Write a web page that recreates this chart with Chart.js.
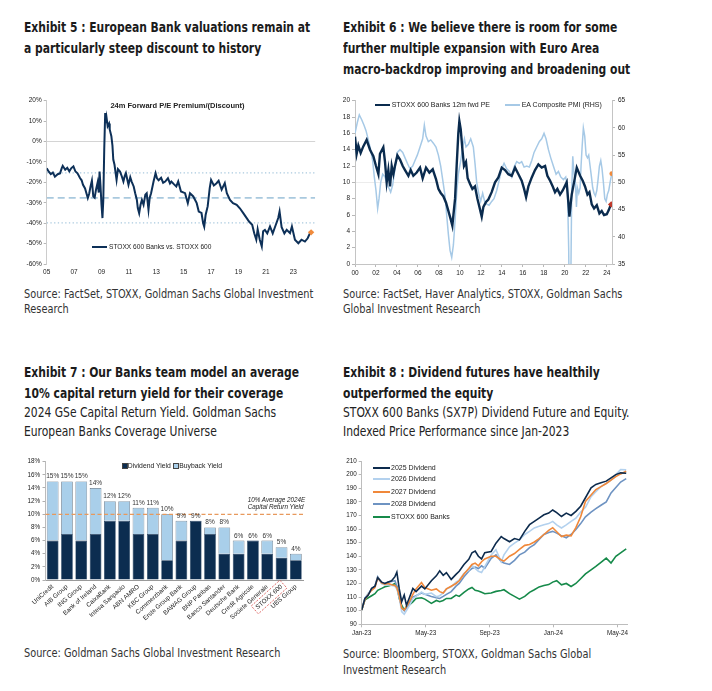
<!DOCTYPE html>
<html>
<head>
<meta charset="utf-8">
<script src="https://cdn.jsdelivr.net/npm/chart.js@4.4.1/dist/chart.umd.min.js"></script>
<style>
html, body { margin: 0; padding: 0; background: #fff; }
body { width: 712px; height: 691px; position: relative; overflow: hidden;
  font-family: "DejaVu Sans Condensed", "Liberation Sans", Arial, sans-serif; color: #1b1b1b; }
.ttl { position: absolute; font-weight: bold; font-size: 14.5px; line-height: 21px; white-space: nowrap;
  transform: scaleX(0.825); transform-origin: 0 0; }
.sub { position: absolute; font-size: 13.5px; line-height: 19px; white-space: nowrap; color: #222;
  transform: scaleX(0.885); transform-origin: 0 0; }
.src { position: absolute; font-size: 12.5px; line-height: 14.5px; white-space: nowrap; color: #333;
  transform: scaleX(0.868); transform-origin: 0 0; }
canvas { position: absolute; }
.lg { position: absolute; font-family: "Liberation Sans", Arial, sans-serif; font-size: 7px; line-height: 8px; color: #222; white-space: nowrap; }
.sw { position: absolute; height: 2px; }
.sq { position: absolute; width: 4px; height: 4px; border: 0.6px solid #444; }
</style>
</head>
<body>

<div class="ttl" style="left:24px;top:16.5px">Exhibit 5 : European Bank valuations remain at<br>a particularly steep discount to history</div>
<div class="ttl" style="left:343px;top:16.5px">Exhibit 6 : We believe there is room for some<br>further multiple expansion with Euro Area<br>macro-backdrop improving and broadening out</div>
<div class="src" style="left:24px;top:287px">Source: FactSet, STOXX, Goldman Sachs Global Investment<br>Research</div>
<div class="src" style="left:343px;top:287px">Source: FactSet, Haver Analytics, STOXX, Goldman Sachs<br>Global Investment Research</div>

<div class="ttl" style="left:24px;top:361.5px">Exhibit 7 : Our Banks team model an average<br>10% capital return yield for their coverage</div>
<div class="sub" style="left:24px;top:402.5px">2024 GSe Capital Return Yield. Goldman Sachs<br>European Banks Coverage Universe</div>
<div class="ttl" style="left:343px;top:361.5px">Exhibit 8 : Dividend futures have healthily<br>outperformed the equity</div>
<div class="sub" style="left:343px;top:402.5px">STOXX 600 Banks (SX7P) Dividend Future and Equity.<br>Indexed Price Performance since Jan-2023</div>
<div class="src" style="left:24px;top:646px">Source: Goldman Sachs Global Investment Research</div>
<div class="src" style="left:343px;top:646px;line-height:16px">Source: Bloomberg, STOXX, Goldman Sachs Global<br>Investment Research</div>

<canvas id="c1" width="302" height="190" style="left:20px;top:90px"></canvas>
<canvas id="c2" width="300" height="190" style="left:340px;top:90px"></canvas>
<canvas id="c3" width="300" height="190" style="left:20px;top:455px"></canvas>
<canvas id="c4" width="290" height="185" style="left:340px;top:455px"></canvas>

<!-- chart 1 overlay text -->
<div class="lg" style="left:101.7px;width:151.6px;text-align:center;top:100.5px;font-weight:bold;font-size:7.5px;line-height:9px">24m Forward P/E Premium/(Discount)</div>
<div class="sw" style="left:91.7px;top:245.7px;width:15.3px;background:#0d3058"></div>
<div class="lg" style="left:109px;top:242.7px;font-size:6.6px">STOXX 600 Banks vs. STOXX 600</div>

<!-- chart 2 legend -->
<div class="sw" style="left:375px;top:104px;width:15px;background:#0a2b4e"></div>
<div class="lg" style="left:391.7px;top:101px">STOXX 600 Banks 12m fwd PE</div>
<div class="sw" style="left:505px;top:104px;width:15px;background:#a6c9e6"></div>
<div class="lg" style="left:521.7px;top:101px">EA Composite PMI (RHS)</div>

<!-- chart 3 legend and note -->
<div class="sq" style="left:121.7px;top:463.3px;background:#0c2d50"></div>
<div class="lg" style="left:127.8px;top:461.5px;font-size:6.8px">Dividend Yield</div>
<div class="sq" style="left:173.3px;top:463.3px;background:#a9cfea"></div>
<div class="lg" style="left:179.3px;top:461.5px;font-size:6.8px">Buyback Yield</div>
<div class="lg" style="left:247.7px;top:497px;font-size:6.3px;line-height:6.6px;font-style:italic">10% Average 2024E<br>Capital Return Yield</div>

<!-- chart 4 legend -->
<div class="sw" style="left:373.3px;top:466.7px;width:16.7px;background:#0d2b4d"></div>
<div class="lg" style="left:391px;top:463.7px">2025 Dividend</div>
<div class="sw" style="left:373.3px;top:478.3px;width:16.7px;background:#b3d1ee"></div>
<div class="lg" style="left:391px;top:475.3px">2026 Dividend</div>
<div class="sw" style="left:373.3px;top:490.7px;width:16.7px;background:#f0883a"></div>
<div class="lg" style="left:391px;top:487.7px">2027 Dividend</div>
<div class="sw" style="left:373.3px;top:503.3px;width:16.7px;background:#6e93c2"></div>
<div class="lg" style="left:391px;top:500.3px">2028 Dividend</div>
<div class="sw" style="left:373.3px;top:515.7px;width:16.7px;background:#168a4a"></div>
<div class="lg" style="left:391px;top:512.7px">STOXX 600 Banks</div>

<script>
// ---- Exhibit 5: banks vs STOXX 600 24m fwd P/E premium (%) ----
const c1TickYears = [2005, 2007, 2009, 2011, 2013, 2015, 2017, 2019, 2021, 2023];
const c1Years = [2005.00, 2005.15, 2005.30, 2005.45, 2005.60, 2005.80, 2005.97, 2006.10, 2006.17, 2006.35,
  2006.50, 2006.65, 2006.80, 2006.95, 2007.10, 2007.25, 2007.43, 2007.55, 2007.65, 2007.80,
  2007.90, 2008.00, 2008.10, 2008.20, 2008.30, 2008.40, 2008.50, 2008.60, 2008.72, 2008.80,
  2008.86, 2008.93, 2009.00, 2009.07, 2009.13, 2009.20, 2009.27, 2009.32, 2009.37, 2009.45,
  2009.55, 2009.60, 2009.72, 2009.80, 2009.86, 2009.95, 2010.10, 2010.20, 2010.35, 2010.48,
  2010.60, 2010.70, 2010.78, 2010.97, 2011.10, 2011.20, 2011.35, 2011.46, 2011.58, 2011.65,
  2011.75, 2011.85, 2011.95, 2012.07, 2012.20, 2012.30, 2012.43, 2012.52, 2012.62, 2012.80,
  2012.95, 2013.05, 2013.17, 2013.35, 2013.50, 2013.65, 2013.85, 2014.00, 2014.10, 2014.30,
  2014.46, 2014.60, 2014.80, 2015.10, 2015.30, 2015.46, 2015.70, 2015.95, 2016.10, 2016.30,
  2016.42, 2016.50, 2016.60, 2016.75, 2016.90, 2017.00, 2017.20, 2017.40, 2017.55, 2017.77,
  2018.00, 2018.15, 2018.38, 2018.60, 2018.87, 2019.10, 2019.35, 2019.60, 2019.77, 2020.00,
  2020.15, 2020.30, 2020.40, 2020.55, 2020.70, 2020.80, 2020.93, 2021.10, 2021.30, 2021.50,
  2021.66, 2021.90, 2022.00, 2022.15, 2022.35, 2022.52, 2022.76, 2022.90, 2023.12, 2023.37,
  2023.60, 2023.85, 2024.05, 2024.22, 2024.30];
const c1Values = [-13.1, -14.8, -16.0, -15.2, -17.2, -16.0, -15.6, -13.0, -11.9, -13.8,
  -12.9, -14.6, -13.0, -12.2, -14.7, -15.6, -17.9, -19.0, -21.2, -23.0,
  -25.3, -27.7, -25.6, -22.0, -19.1, -26.8, -27.5, -23.6, -20.0, -25.0,
  -14.7, -22.0, -31.0, -37.5, -29.0, -4.0, 14.0, 9.0, 11.6, 7.5,
  8.8, 5.9, 2.6, -2.0, -8.8, -11.4, -18.8, -13.5, -14.7, -17.0,
  -19.6, -16.8, -15.5, -21.2, -17.5, -19.6, -22.0, -25.3, -28.5, -32.6,
  -35.1, -31.0, -28.6, -31.0, -26.0, -25.3, -33.4, -27.5, -25.3, -19.6,
  -15.5, -18.0, -19.0, -17.8, -20.2, -19.6, -18.0, -20.5, -19.6, -21.0,
  -22.0, -19.6, -24.5, -25.3, -30.2, -25.3, -26.9, -30.2, -34.3, -35.0,
  -40.0, -41.7, -36.0, -31.8, -22.8, -18.8, -21.5, -20.4, -19.2, -23.6,
  -20.4, -25.3, -28.6, -30.2, -31.0, -32.7, -35.1, -37.5, -39.2, -40.8,
  -44.9, -48.1, -43.0, -48.0, -51.4, -44.0, -43.3, -45.0, -41.6, -45.0,
  -42.0, -37.5, -34.3, -42.0, -45.0, -43.3, -44.9, -41.6, -48.1, -49.8,
  -48.1, -49.0, -47.4, -44.9, -44.5];
const c1Avg = -27.6;
const c1Plus1Sd = -15.4;
const c1Minus1Sd = -39.9;
const c1Last = [2024.30, -44.5];

// ---- Exhibit 6: banks 12m fwd PE vs EA composite PMI ----
const c2TickYears = [2000, 2002, 2004, 2006, 2008, 2010, 2012, 2014, 2016, 2018, 2020, 2022, 2024];
const c2PeYears = [2000.00, 2000.16, 2000.32, 2000.54, 2000.79, 2001.11, 2001.43, 2001.75, 2002.00, 2002.23,
  2002.38, 2002.70, 2002.86, 2003.02, 2003.18, 2003.34, 2003.50, 2003.66, 2003.81, 2004.04,
  2004.29, 2004.55, 2004.77, 2005.09, 2005.31, 2005.56, 2005.88, 2006.20, 2006.45, 2006.77,
  2007.09, 2007.41, 2007.72, 2007.95, 2008.17, 2008.42, 2008.68, 2008.90, 2009.12, 2009.28,
  2009.38, 2009.54, 2009.69, 2009.85, 2009.95, 2010.08, 2010.24, 2010.39, 2010.58, 2010.74,
  2010.97, 2011.19, 2011.44, 2011.67, 2011.86, 2012.08, 2012.24, 2012.49, 2012.71, 2013.03,
  2013.35, 2013.67, 2013.99, 2014.30, 2014.62, 2014.94, 2015.26, 2015.58, 2015.89, 2016.12,
  2016.31, 2016.53, 2016.85, 2017.16, 2017.48, 2017.80, 2018.12, 2018.34, 2018.60, 2018.85,
  2019.07, 2019.29, 2019.55, 2019.80, 2020.03, 2020.18, 2020.34, 2020.44, 2020.57, 2020.66,
  2020.88, 2021.14, 2021.46, 2021.71, 2021.93, 2022.16, 2022.35, 2022.57, 2022.79, 2023.05,
  2023.30, 2023.52, 2023.74, 2024.00, 2024.19, 2024.40];
const c2PeValues = [15.6, 13.5, 14.5, 13.6, 14.4, 15.2, 14.0, 13.2, 12.0, 11.0,
  13.5, 14.3, 12.5, 10.0, 11.5, 9.5, 12.0, 11.0, 12.0, 13.3,
  12.8, 12.0, 11.5, 10.8, 11.5, 10.8, 11.2, 11.8, 10.5, 11.8,
  11.2, 11.6, 10.4, 9.2, 8.7, 8.3, 7.5, 6.5, 5.5, 4.7,
  6.0, 8.0, 12.0, 16.0, 17.5, 16.5, 14.0, 12.0, 12.5, 10.5,
  9.8, 9.2, 9.5, 8.0, 7.0, 5.8, 7.0, 7.6, 7.9, 8.8,
  10.0, 10.6, 11.8, 11.5, 11.0, 10.8, 11.8, 11.0, 10.2, 9.2,
  8.2, 9.5, 10.6, 11.5, 12.2, 11.8, 12.0, 10.8, 10.2, 9.5,
  8.8, 9.2, 8.5, 9.0, 9.6, 10.0, 7.5, 5.8, 7.5, 8.5,
  10.0, 11.8, 10.8, 10.2, 9.5, 8.5, 8.8, 7.3, 6.8, 7.2,
  6.2, 6.5, 6.0, 6.1, 6.6, 7.3];
const c2PmiYears = [2000.00, 2000.22, 2000.41, 2000.64, 2000.86, 2001.05, 2001.27, 2001.49, 2001.68, 2001.84,
  2002.00, 2002.16, 2002.29, 2002.45, 2002.64, 2002.86, 2003.08, 2003.27, 2003.40, 2003.59,
  2003.81, 2004.04, 2004.29, 2004.55, 2004.77, 2004.99, 2005.24, 2005.50, 2005.72, 2005.94,
  2006.20, 2006.45, 2006.61, 2006.77, 2006.99, 2007.22, 2007.47, 2007.72, 2007.95, 2008.17,
  2008.36, 2008.58, 2008.74, 2008.90, 2009.06, 2009.22, 2009.38, 2009.54, 2009.69, 2009.85,
  2010.08, 2010.27, 2010.43, 2010.58, 2010.81, 2011.03, 2011.28, 2011.44, 2011.60, 2011.79,
  2011.98, 2012.17, 2012.36, 2012.56, 2012.78, 2013.03, 2013.25, 2013.51, 2013.76, 2013.99,
  2014.21, 2014.46, 2014.72, 2014.94, 2015.16, 2015.42, 2015.67, 2015.89, 2016.12, 2016.37,
  2016.62, 2016.85, 2017.07, 2017.32, 2017.58, 2017.80, 2018.02, 2018.21, 2018.44, 2018.66,
  2018.91, 2019.17, 2019.39, 2019.61, 2019.87, 2020.09, 2020.25, 2020.37, 2020.47, 2020.57,
  2020.66, 2020.76, 2020.88, 2021.01, 2021.11, 2021.20, 2021.33, 2021.46, 2021.55, 2021.65,
  2021.77, 2021.90, 2022.03, 2022.16, 2022.28, 2022.41, 2022.54, 2022.66, 2022.79, 2022.92,
  2023.05, 2023.17, 2023.30, 2023.43, 2023.55, 2023.68, 2023.81, 2023.94, 2024.06, 2024.19,
  2024.32, 2024.48];
const c2PmiValues = [59.0, 61.0, 62.4, 61.5, 60.5, 59.5, 57.8, 56.0, 54.0, 51.0,
  48.5, 45.2, 47.0, 50.0, 51.5, 51.0, 49.5, 48.8, 48.2, 49.5,
  52.5, 55.5, 56.0, 55.5, 54.5, 53.5, 52.5, 53.0, 54.0, 55.0,
  56.5, 58.0, 60.5, 58.5, 57.5, 57.8, 57.2, 56.5, 55.0, 53.0,
  50.5, 47.5, 44.0, 40.5, 37.5, 36.2, 38.5, 43.0, 48.0, 51.5,
  54.0, 56.5, 58.0, 56.5, 57.0, 58.0, 56.5, 53.5, 50.0, 48.0,
  46.5, 48.0, 46.5, 46.0, 45.8, 46.5, 47.0, 48.5, 50.5, 52.5,
  53.5, 52.5, 52.0, 51.0, 52.8, 53.8, 53.5, 53.8, 52.8, 53.0,
  52.8, 54.0, 55.5, 56.5, 57.5, 58.0, 59.0, 58.0, 56.0, 54.5,
  53.0, 51.5, 52.0, 51.0, 50.5, 51.0, 49.0, 38.0, 20.0, 31.0,
  48.5, 54.8, 51.5, 50.0, 45.5, 49.0, 48.0, 49.0, 53.0, 56.5,
  60.0, 58.5, 55.0, 54.5, 55.0, 53.0, 51.0, 49.0, 48.0, 47.5,
  48.5, 50.5, 53.0, 54.0, 52.5, 50.0, 47.0, 46.5, 47.8, 48.5,
  50.0, 51.6];
const c2PeLast = [2024.42, 7.3];
const c2PmiLast = [2024.48, 51.6];

// ---- Exhibit 7: 2024E capital return yield (%) ----
const c3Banks = ['UniCredit', 'AIB Group', 'ING Group', 'Bank of Ireland', 'CaixaBank', 'Intesa Sanpaolo',
  'ABN AMRO', 'KBC Group', 'Commerzbank', 'Erste Group Bank', 'BAWAG Group', 'BNP Paribas',
  'Banco Santander', 'Deutsche Bank', 'Credit Agricole', 'Societe Generale', 'STOXX 600', 'UBS Group'];
const c3Dividend = [6, 7, 6, 7, 9, 9, 7, 7, 3, 6, 9, 7, 4, 4, 6, 4, 3.4, 3];
const c3Buyback = [9, 8, 9, 7, 3, 3, 4, 4, 7, 3, 0, 1, 4, 2, 0, 2, 1.6, 1];
const c3AvgReturn = 10;
const c3Highlight = 'STOXX 600';

// ---- Exhibit 8: dividend futures vs equity, indexed (months since Jan-23) ----
const c4TickMonths = [0, 4, 8, 12, 16];
const c4TickLabels = ['Jan-23', 'May-23', 'Sep-23', 'Jan-24', 'May-24'];
const c4Months = [0, 0.2, 0.41, 0.62, 0.83, 1.0, 1.25, 1.45, 1.66, 1.87,
  2.08, 2.2, 2.35, 2.5, 2.66, 2.8, 3.0, 3.2, 3.4, 3.74,
  3.95, 4.36, 4.67, 4.88, 5.1, 5.3, 5.6, 5.9, 6.1, 6.4,
  6.7, 6.9, 7.1, 7.3, 7.5, 7.7, 8.1, 8.4, 8.73, 8.9,
  9.25, 9.56, 9.87, 10.2, 10.5, 10.8, 11.1, 11.4, 11.7, 11.95,
  12.2, 12.5, 12.8, 13.1, 13.4, 13.7, 14.0, 14.35, 14.65, 14.97,
  15.3, 15.6, 15.9, 16.2, 16.55];
const c4Div2025 = [100.5, 109, 111.5, 116.4, 118, 124.3, 121, 120, 121, 122,
  125, 128.3, 116, 106.6, 111.5, 104, 110, 116.4, 114, 118,
  116, 122, 125.6, 129.3, 126, 128, 123, 126.7, 129, 134,
  137.7, 142.6, 143.8, 140, 138, 142.6, 143.5, 149.6, 154.5, 153,
  150.7, 153, 152, 158.3, 163.2, 165.6, 168, 170.5, 171.7, 174,
  172, 169.2, 171.7, 170, 173, 176.8, 183, 190.3, 192.8, 194,
  195.2, 197.6, 200, 201.3, 201];
const c4Div2026 = [100.5, 109, 113, 115.4, 118, 125, 120, 119, 119, 118.5,
  118, 116, 110, 99.3, 97.4, 100, 104, 109, 110.5, 113.7,
  112, 113, 110.3, 111, 113, 116, 117.6, 121, 122.5, 127.4,
  129.8, 133.4, 131, 129, 128, 132.4, 141, 144.8, 136, 141,
  147, 149.6, 152, 156, 158.3, 160.8, 162, 163.2, 164, 165.6,
  163, 160.8, 163, 165.6, 168, 172.5, 176, 183.8, 187.5, 191.2,
  193.6, 196, 200, 203.7, 203.5];
const c4Div2027 = [100.5, 108, 112, 115, 117, 124, 120.5, 119.5, 120, 119,
  118.5, 117, 111, 102, 100.5, 103, 107, 112, 116, 120.7,
  117, 115, 116, 114, 113, 116, 118, 120, 122, 127,
  131, 134, 135, 133, 136, 138, 140, 140, 137.3, 136.5,
  140, 142, 145, 148, 148.7, 150.5, 153, 156, 159, 161,
  158, 154.5, 155.5, 155, 161, 169, 180.3, 185, 189, 191.2,
  193.5, 196, 198.5, 200.5, 202.5];
const c4Div2028 = [100.5, 109, 112, 116, 118, 125, 120, 120, 121, 121.5,
  122, 118, 110, 102, 100, 102, 106, 110, 111, 113,
  112, 110.5, 109.5, 109, 110.5, 112, 114, 118, 120, 125,
  129, 131, 132, 131, 133, 131.2, 138.5, 141, 136.1, 135,
  134, 137, 141, 143, 146.3, 148.5, 152.4, 156, 157.5, 158.3,
  157, 155, 153.6, 156, 159.7, 164, 169, 172.5, 175, 177.5,
  180, 186.5, 190.5, 194.5, 197];
const c4Banks = [100.5, 107.9, 109.5, 111, 112.5, 115, 116.4, 117.6, 118.2, 118.8,
  120, 118, 109, 104, 100.5, 103, 104.5, 106.5, 109, 109.5,
  108.5, 105.4, 107.5, 106.6, 107.5, 109, 109, 111.5, 110.5, 113.5,
  116, 117.1, 115, 114.5, 113.5, 112.5, 113, 114.2, 114.8, 115.4,
  112.5, 110.5, 108.5, 110.5, 113.5, 115.4, 117.5, 118.5, 119.2, 121,
  122, 119, 120, 117.8, 120, 123.5, 127, 130, 132.5, 135.5,
  138.6, 135, 140, 142.5, 145.5];

Chart.defaults.font.family = '"Liberation Sans", Arial, sans-serif';
Chart.defaults.color = '#222';
Chart.defaults.animation = false;
Chart.defaults.plugins.legend.display = false;
Chart.defaults.plugins.tooltip.enabled = false;
Chart.defaults.elements.point.radius = 0;
Chart.defaults.elements.line.tension = 0;

function xy(xs, ys) {
  return xs.map((x, i) => ({ x: x, y: ys[i] }));
}
function flat(x0, x1, y) {
  return [{ x: x0, y: y }, { x: x1, y: y }];
}
function fixW(w) { return s => { s.width = w; }; }
function fixH(h) { return s => { s.height = h; }; }
const noLine = 'rgba(0,0,0,0)';

// Exhibit 5
const c1Min = 2005, c1Max = 2024.6;
new Chart(document.getElementById('c1'), {
  type: 'line',
  data: {
    datasets: [
      { data: [{ x: c1Last[0], y: c1Last[1] }], showLine: false, pointRadius: 3.2, pointStyle: 'rectRot',
        pointBackgroundColor: '#f08a3c', pointBorderWidth: 0 },
      { data: xy(c1Years, c1Values), borderColor: '#0d3058', borderWidth: 2 },
      { data: flat(c1Min, c1Max, c1Plus1Sd), borderColor: '#a9c9de', borderWidth: 1.3, borderDash: [1.3, 2.4] },
      { data: flat(c1Min, c1Max, c1Avg), borderColor: '#a9c9de', borderWidth: 1.6, borderDash: [7, 4] },
      { data: flat(c1Min, c1Max, c1Minus1Sd), borderColor: '#a9c9de', borderWidth: 1.3, borderDash: [1.3, 2.4] }
    ]
  },
  options: {
    responsive: false,
    layout: { padding: { top: 10.7, right: 6.8, left: 0, bottom: 0 } },
    scales: {
      x: {
        type: 'linear', min: c1Min, max: c1Max,
        afterBuildTicks: s => { s.ticks = c1TickYears.map(v => ({ value: v })); },
        ticks: { callback: v => String(v).slice(2), font: { size: 6.5 }, padding: 4.5, maxRotation: 0, autoSkip: false },
        grid: { display: false, drawTicks: false }, border: { display: false },
        afterFit: fixH(16)
      },
      y: {
        min: -60, max: 20,
        ticks: { stepSize: 10, callback: v => v + '%', font: { size: 6.5 }, padding: 2 },
        grid: { color: c => (c.tick && c.tick.value === 0) ? '#d4d4d4' : noLine, tickColor: '#b8b8b8', tickLength: 3 },
        border: { color: '#cccccc' },
        afterFit: fixW(26.7)
      }
    }
  }
});

// Exhibit 6
const c2Min = 2000, c2Max = 2024.5;
new Chart(document.getElementById('c2'), {
  type: 'line',
  data: {
    datasets: [
      { data: [{ x: c2PeLast[0], y: c2PeLast[1] }], yAxisID: 'y', showLine: false, pointRadius: 3.2,
        pointStyle: 'rectRot', pointBackgroundColor: '#c0392b', pointBorderWidth: 0 },
      { data: [{ x: c2PmiLast[0], y: c2PmiLast[1] }], yAxisID: 'y1', showLine: false, pointRadius: 2.4,
        pointBackgroundColor: '#f08a3c', pointBorderWidth: 0 },
      { data: xy(c2PeYears, c2PeValues), yAxisID: 'y', borderColor: '#0a2b4e', borderWidth: 2.4 },
      { data: xy(c2PmiYears, c2PmiValues), yAxisID: 'y1', borderColor: '#a6c9e6', borderWidth: 1.5 }
    ]
  },
  options: {
    responsive: false,
    layout: { padding: { top: 10.7, right: 0, left: 0, bottom: 0 } },
    scales: {
      x: {
        type: 'linear', min: c2Min, max: c2Max,
        afterBuildTicks: s => { s.ticks = c2TickYears.map(v => ({ value: v })); },
        ticks: { callback: v => String(v).slice(2), font: { size: 6.5 }, padding: 2, maxRotation: 0, autoSkip: false },
        grid: { drawOnChartArea: false, tickLength: 3, tickColor: '#b8b8b8' },
        border: { color: '#c4c4c4' },
        afterFit: fixH(16)
      },
      y: {
        position: 'left', min: 0, max: 20,
        ticks: { stepSize: 2, font: { size: 6.5 }, padding: 2 },
        grid: { color: c => (c.tick && c.tick.value === 10) ? '#ececec' : noLine, tickColor: '#b8b8b8', tickLength: 3 },
        border: { color: '#c4c4c4' },
        afterFit: fixW(15)
      },
      y1: {
        position: 'right', min: 35, max: 65,
        ticks: { stepSize: 5, font: { size: 6.5 }, padding: 3 },
        grid: { drawOnChartArea: false, tickColor: '#b8b8b8', tickLength: 3 },
        border: { color: '#c4c4c4' },
        afterFit: fixW(28)
      }
    }
  }
});

// Exhibit 7
const c3Extras = {
  id: 'c3Extras',
  afterDatasetsDraw(chart) {
    const ctx = chart.ctx;
    const ys = chart.scales.y;
    const xs = chart.scales.x;
    const area = chart.chartArea;
    // average capital return line
    const yAvg = ys.getPixelForValue(c3AvgReturn);
    ctx.save();
    ctx.strokeStyle = '#e8995c';
    ctx.lineWidth = 1.3;
    ctx.setLineDash([4, 2.5]);
    ctx.beginPath();
    ctx.moveTo(area.left, yAvg);
    ctx.lineTo(area.right, yAvg);
    ctx.stroke();
    ctx.restore();
    // totals above bars
    ctx.save();
    ctx.font = '6.5px "Liberation Sans", Arial, sans-serif';
    ctx.fillStyle = '#333';
    ctx.textAlign = 'center';
    ctx.textBaseline = 'bottom';
    c3Banks.forEach((b, i) => {
      const total = c3Dividend[i] + c3Buyback[i];
      ctx.fillText(Math.round(total) + '%', xs.getPixelForValue(i), ys.getPixelForValue(total) - 1.5);
    });
    ctx.restore();
    // dashed box around the index label
    const idx = c3Banks.indexOf(c3Highlight);
    const items = xs.getLabelItems ? xs.getLabelItems() : null;
    const it = items && items[idx];
    if (it) {
      ctx.save();
      ctx.translate(it.options.translation[0], it.options.translation[1]);
      ctx.rotate(it.options.rotation);
      ctx.font = it.font.string;
      const w = ctx.measureText(it.label).width;
      const lh = it.font.lineHeight;
      ctx.strokeStyle = '#d9534f';
      ctx.lineWidth = 0.8;
      ctx.setLineDash([2, 1.5]);
      ctx.strokeRect(-w - 2.5, it.textOffset - lh / 2 - 1.5, w + 5, lh + 3);
      ctx.restore();
    }
  }
};
new Chart(document.getElementById('c3'), {
  type: 'bar',
  data: {
    labels: c3Banks,
    datasets: [
      { label: 'Dividend Yield', data: c3Dividend, backgroundColor: '#0c2d50', borderColor: '#0c2d50', borderWidth: 0.6 },
      { label: 'Buyback Yield', data: c3Buyback, backgroundColor: '#a9cfea', borderColor: '#5b6b7c', borderWidth: 0.7 }
    ]
  },
  options: {
    responsive: false,
    layout: { padding: { top: 6.7, right: 17, left: 0, bottom: 0 } },
    datasets: { bar: { categoryPercentage: 0.82, barPercentage: 1 } },
    scales: {
      x: {
        stacked: true,
        ticks: { minRotation: 42, maxRotation: 42, autoSkip: false, font: { size: 6.3 }, padding: 3 },
        grid: { display: false, drawTicks: false }, border: { color: '#999' },
        afterFit: fixH(65)
      },
      y: {
        stacked: true, min: 0, max: 18,
        ticks: { stepSize: 2, callback: v => v + '%', font: { size: 6.3 }, padding: 2.5 },
        grid: { drawOnChartArea: false, tickColor: '#b0b0b0', tickLength: 3 },
        border: { color: '#bbbbbb' },
        afterFit: fixW(25.5)
      }
    }
  },
  plugins: [c3Extras]
});

// Exhibit 8
new Chart(document.getElementById('c4'), {
  type: 'line',
  data: {
    datasets: [
      { data: xy(c4Months, c4Div2025), borderColor: '#0d2b4d', borderWidth: 1.6 },
      { data: xy(c4Months, c4Div2027), borderColor: '#f0883a', borderWidth: 1.6 },
      { data: xy(c4Months, c4Div2026), borderColor: '#b3d1ee', borderWidth: 1.6 },
      { data: xy(c4Months, c4Div2028), borderColor: '#6e93c2', borderWidth: 1.6 },
      { data: xy(c4Months, c4Banks), borderColor: '#168a4a', borderWidth: 1.6 }
    ]
  },
  options: {
    responsive: false,
    layout: { padding: { top: 6, right: 2, left: 0, bottom: 0 } },
    scales: {
      x: {
        type: 'linear', min: 0, max: 16.6,
        afterBuildTicks: s => { s.ticks = c4TickMonths.map(v => ({ value: v })); },
        ticks: { callback: (v, i) => c4TickLabels[i], font: { size: 6.3 }, padding: 2, maxRotation: 0, autoSkip: false },
        grid: { drawOnChartArea: false, tickLength: 3, tickColor: '#b8b8b8' },
        border: { color: '#bdbdbd' },
        afterFit: fixH(15.7)
      },
      y: {
        min: 90, max: 210,
        ticks: { stepSize: 10, font: { size: 6.3 }, padding: 2 },
        grid: { drawOnChartArea: false, tickColor: '#b8b8b8', tickLength: 3 },
        border: { color: '#bdbdbd' },
        afterFit: fixW(21.7)
      }
    }
  }
});
</script>
</body>
</html>
